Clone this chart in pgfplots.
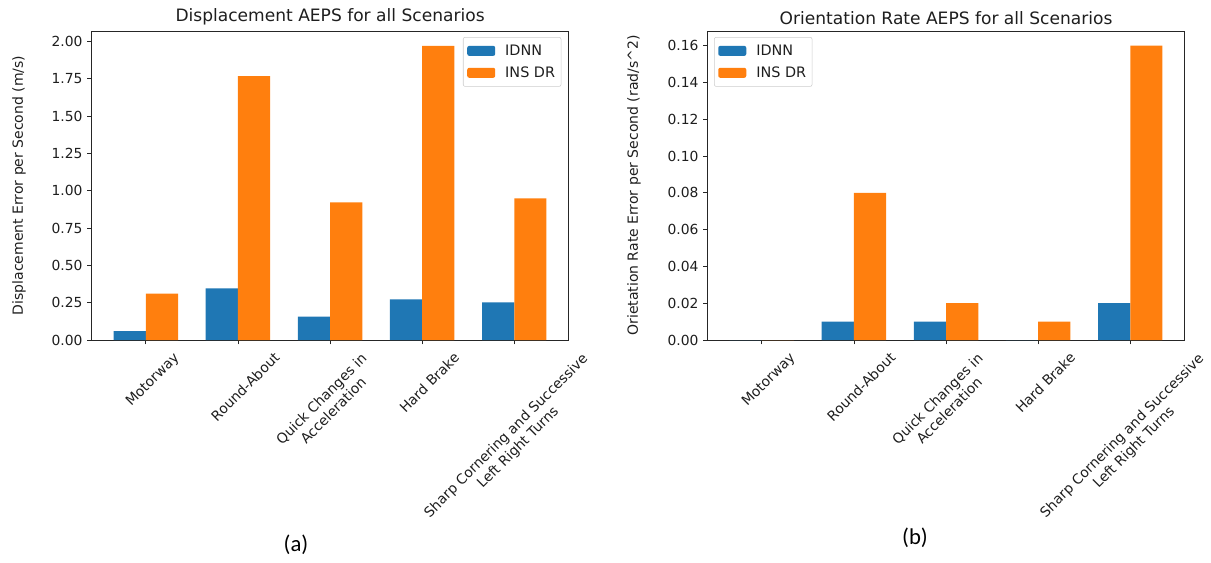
\documentclass[border=0pt]{standalone}
\usepackage{pgfplots}
\pgfplotsset{compat=1.18}
\usepackage{fontspec}
\setmainfont{DejaVu Sans}
\newfontfamily\capfont{Carlito}
\definecolor{tabblue}{RGB}{31,119,180}
\definecolor{taborange}{RGB}{255,127,14}
\definecolor{txt}{RGB}{30,30,30}
\newsavebox\labbox
\newlength\labpad
\newlength\labpadx
\newlength\labpady
% rotated label whose axis-aligned box is centred under the tick; #1 = extra left shift
\newcommand\mlg[2]{\sbox\labbox{#2}\setlength\labpad{\wd\labbox}\addtolength\labpad{\ht\labbox}\addtolength\labpad{\dp\labbox}\setlength\labpad{0.5\labpad}%
  \setlength\labpadx{\labpad}\addtolength\labpadx{1.41421\dimexpr#1\relax}%
  \setlength\labpady{\labpad}\addtolength\labpady{-1.41421\dimexpr#1\relax}%
  \usebox\labbox\rule[\ht\labbox]{0pt}{\labpady}\hspace*{\labpadx}}
\newcommand\ml[1]{\mlg{0pt}{#1}}
\newcommand\twol[2]{\mlg{6.5pt}{\begin{tabular}{@{}c@{}}#1\\#2\end{tabular}}}

\pgfplotstableread{
x idnn insdr
0 0.060 0.310
1 0.346 1.768
2 0.156 0.922
3 0.273 1.970
4 0.252 0.949
}\dispdata
\pgfplotstableread{
x idnn insdr
0 0.00 0.00
1 0.01 0.08
2 0.01 0.02
3 0.00 0.01
4 0.02 0.16
}\orientdata

\pgfplotsset{
  mystyle/.style={
    scale only axis,
    width=357.5pt, height=231.75pt,
    anchor=south west,
    xmin=-0.588, xmax=4.588,
    ymin=0,
    axis line style={black!85, line width=0.6pt},
    xtick={0,1,2,3,4},
    xticklabels={{\ml{Motorway}},{\ml{Round-About}},{\twol{Quick Changes in}{Acceleration}},{\ml{Hard Brake}},{\twol{Sharp Cornering and Successive}{Left Right Turns}}},
    xtick pos=bottom, ytick pos=left,
    tick align=outside,
    major tick length=3.2pt,
    tick style={black!85, line width=0.6pt},
    every tick label/.append style={font=\fontsize{10.4}{12.5}\selectfont, text=txt},
    xticklabel style={rotate=45, anchor=center, inner sep=0pt, yshift=-7.5pt},
    yticklabel style={inner sep=0pt, xshift=-3.5pt},
    /pgf/number format/assume math mode=true,
    /pgf/number format/.cd, fixed, fixed zerofill, precision=2, /pgfplots/.cd,
    scaled y ticks=false,
    title style={font=\fontsize{12.8}{15}\selectfont, text=txt, yshift=-5pt},
    ylabel style={font=\fontsize{10.5}{12.5}\selectfont, text=txt, anchor=center},
    legend style={font=\fontsize{10.8}{13}\selectfont, text=txt, draw=black!20, rounded corners=1.5pt, fill=white, inner xsep=3pt, inner ysep=4pt, row sep=4pt, column sep=6pt, nodes={inner sep=1.5pt}},
    legend cell align=left,
    legend image code/.code={\fill[##1] (0pt,-3.75pt) rectangle (21pt,3.75pt);},
  }
}

\begin{document}
\begin{tikzpicture}
\useasboundingbox (0,0) rectangle (908.25pt,421.5pt);
\begin{axis}[mystyle,
  at={(68.8pt,166.5pt)},
  ymax=2.07,
  ytick={0,0.25,0.5,0.75,1,1.25,1.5,1.75,2},
  title={Displacement AEPS for all Scenarios},
  ylabel={Displacement Error per Second (m/s)},
  ylabel style={at={(axis description cs:-0.1525,0.5)}},
  legend style={at={(1,1)}, anchor=north east, xshift=-5.3pt, yshift=-4.5pt},
]
\addplot[ybar, bar width=0.35, bar shift=-0.175, fill=tabblue, draw=none] table[x=x, y=idnn] {\dispdata};
\addplot[ybar, bar width=0.35, bar shift=0.175, fill=taborange, draw=none] table[x=x, y=insdr] {\dispdata};
\legend{IDNN, INS DR}
\end{axis}
\begin{axis}[mystyle,
  at={(530.8pt,166.5pt)},
  ymax=0.168,
  ytick={0,0.02,0.04,0.06,0.08,0.10,0.12,0.14,0.16},
  title={Orientation Rate AEPS for all Scenarios},
  ylabel={Orietation Rate Error per Second (rad/s\textasciicircum 2)},
  ylabel style={at={(axis description cs:-0.1546,0.5)}},
  legend style={at={(0,1)}, anchor=north west, xshift=4.7pt, yshift=-4.5pt},
]
\addplot[ybar, bar width=0.35, bar shift=-0.175, fill=tabblue, draw=none] table[x=x, y=idnn] {\orientdata};
\addplot[ybar, bar width=0.35, bar shift=0.175, fill=taborange, draw=none] table[x=x, y=insdr] {\orientdata};
\legend{IDNN, INS DR}
\end{axis}
\node[font=\capfont\fontsize{17}{20}\selectfont] at (222pt,12.75pt) {(a)};
\node[font=\capfont\fontsize{17}{20}\selectfont] at (686.25pt,18pt) {(b)};
\end{tikzpicture}
\end{document}
